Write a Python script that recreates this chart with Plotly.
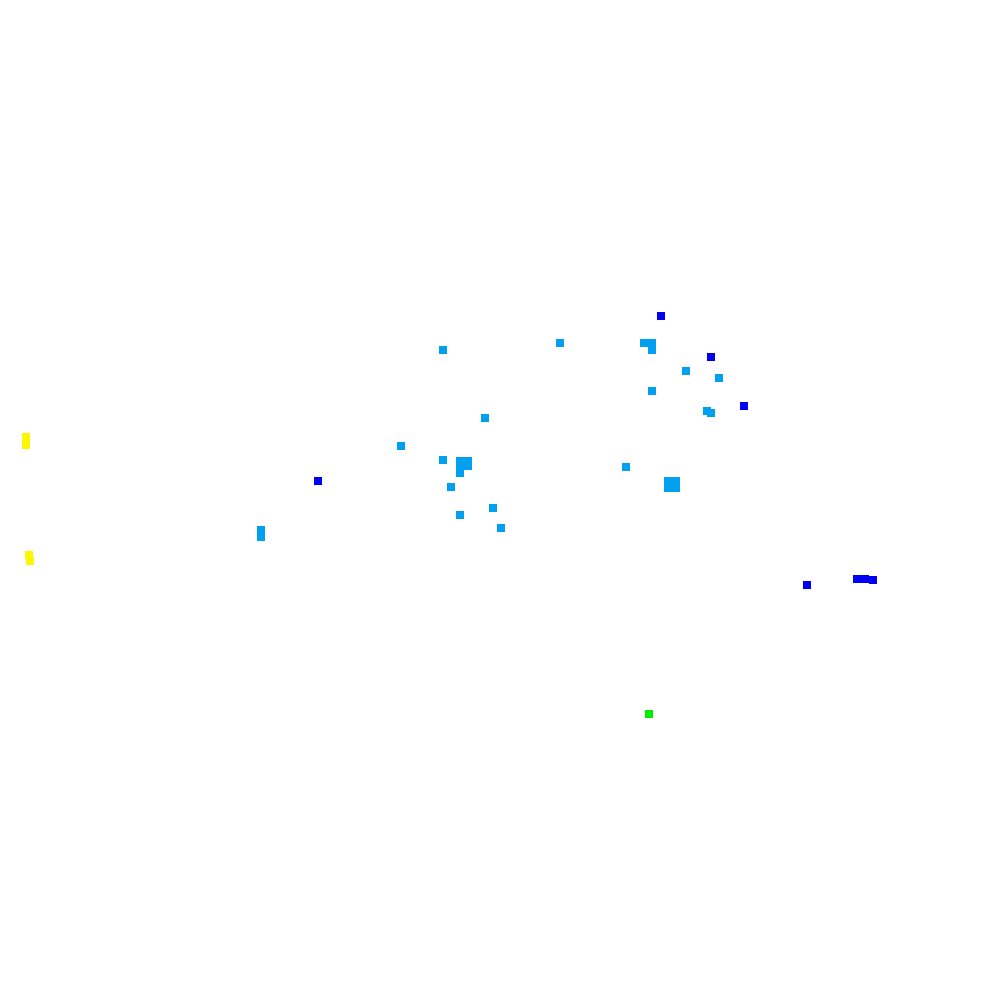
import plotly.graph_objects as go

# Point positions grouped by colour category
cyan_x = [443, 560, 644, 652, 652, 686, 719, 652, 707, 711, 485, 401, 443,
          460, 468, 460, 468, 460, 451, 493, 460, 501, 626, 668, 676, 668, 676, 261, 261]
cyan_y = [350, 343, 343, 343, 350, 371, 378, 391, 411, 413, 418, 446, 460,
          461, 461, 466, 466, 473, 487, 508, 515, 528, 467, 481, 481, 488, 488, 530, 537]

blue_x = [661, 711, 744, 318, 807, 857, 865, 873]
blue_y = [316, 357, 406, 481, 585, 579, 579, 580]

yellow_x = [26, 26, 29, 30]
yellow_y = [437, 445, 555, 561]

green_x = [649]
green_y = [714]

groups = [
    (cyan_x, cyan_y, "#009FEF"),
    (blue_x, blue_y, "#0000F5"),
    (yellow_x, yellow_y, "#FFF700"),
    (green_x, green_y, "#00F000"),
]

fig = go.Figure()
for xs, ys, col in groups:
    fig.add_trace(go.Scatter(
        x=xs, y=ys, mode="markers",
        marker=dict(symbol="square", size=8, color=col, line=dict(width=0)),
        showlegend=False, hoverinfo="skip",
    ))

fig.update_layout(
    width=1000, height=1000,
    margin=dict(l=0, r=0, t=0, b=0),
    paper_bgcolor="white", plot_bgcolor="white",
    xaxis=dict(range=[8, 1008], visible=False),
    yaxis=dict(range=[1008, 8], visible=False),
)

fig.write_html("out.html")
